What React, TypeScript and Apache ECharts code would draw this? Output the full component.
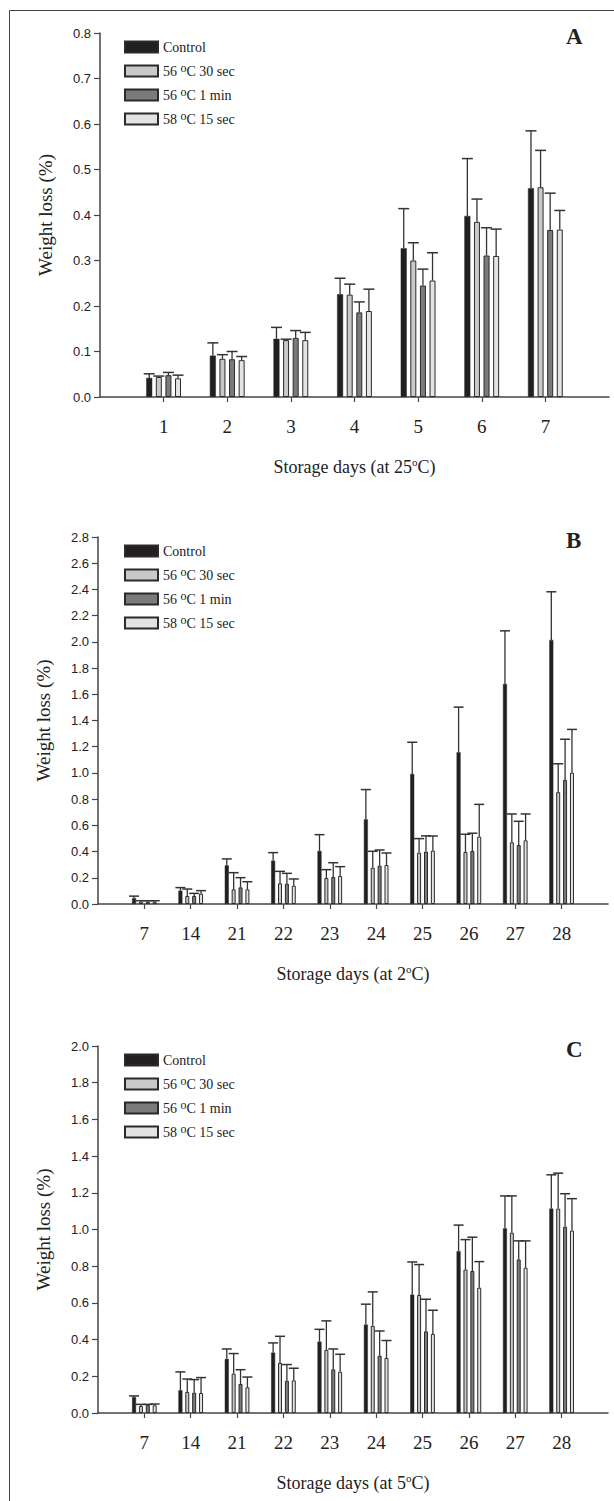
import React, { useEffect, useRef } from 'react';
import * as echarts from 'echarts';

// ---------------- data ----------------
const seriesNames = ['Control', '56 oC 30 sec', '56 oC 1 min', '58 oC 15 sec'];

const daysA = ['1', '2', '3', '4', '5', '6', '7'];
const daysBC = ['7', '14', '21', '22', '23', '24', '25', '26', '27', '28'];

// Panel A (25 °C)
const controlA = [0.042, 0.091, 0.128, 0.226, 0.327, 0.398, 0.459];
const controlA_sd = [0.009, 0.028, 0.025, 0.035, 0.087, 0.126, 0.126];
const t56s30A = [0.044, 0.084, 0.125, 0.225, 0.300, 0.385, 0.461];
const t56s30A_sd = [0.002, 0.009, 0.002, 0.023, 0.039, 0.050, 0.081];
const t56m1A = [0.048, 0.083, 0.130, 0.186, 0.245, 0.311, 0.367];
const t56m1A_sd = [0.006, 0.017, 0.016, 0.023, 0.036, 0.061, 0.081];
const t58s15A = [0.041, 0.081, 0.125, 0.189, 0.256, 0.310, 0.368];
const t58s15A_sd = [0.007, 0.008, 0.017, 0.048, 0.061, 0.059, 0.042];

// Panel B (2 °C)
const controlB = [0.045, 0.102, 0.295, 0.331, 0.405, 0.646, 0.992, 1.158, 1.679, 2.015];
const controlB_sd = [0.015, 0.023, 0.049, 0.061, 0.124, 0.227, 0.242, 0.344, 0.405, 0.367];
const t56s30B = [0.018, 0.061, 0.112, 0.158, 0.198, 0.277, 0.392, 0.397, 0.471, 0.853];
const t56s30B_sd = [0.007, 0.053, 0.127, 0.091, 0.064, 0.125, 0.107, 0.135, 0.216, 0.217];
const t56m1B = [0.018, 0.061, 0.127, 0.155, 0.206, 0.293, 0.400, 0.405, 0.450, 0.947];
const t56m1B_sd = [0.007, 0.020, 0.074, 0.079, 0.109, 0.119, 0.120, 0.135, 0.181, 0.310];
const t58s15B = [0.018, 0.079, 0.112, 0.140, 0.214, 0.298, 0.407, 0.514, 0.486, 1.002];
const t58s15B_sd = [0.007, 0.023, 0.058, 0.051, 0.071, 0.091, 0.112, 0.246, 0.201, 0.330];

// Panel C (5 °C)
const controlC = [0.087, 0.124, 0.295, 0.329, 0.389, 0.482, 0.645, 0.882, 1.006, 1.114];
const controlC_sd = [0.006, 0.100, 0.054, 0.053, 0.067, 0.111, 0.178, 0.142, 0.177, 0.184];
const t56s30C = [0.038, 0.115, 0.215, 0.273, 0.344, 0.475, 0.643, 0.782, 0.983, 1.114];
const t56s30C_sd = [0.009, 0.070, 0.109, 0.145, 0.158, 0.185, 0.166, 0.163, 0.200, 0.193];
const t56m1C = [0.044, 0.111, 0.158, 0.176, 0.238, 0.313, 0.445, 0.774, 0.837, 1.015];
const t56m1C_sd = [0.003, 0.071, 0.078, 0.088, 0.111, 0.134, 0.175, 0.184, 0.101, 0.180];
const t58s15C = [0.042, 0.109, 0.140, 0.178, 0.225, 0.300, 0.431, 0.683, 0.792, 0.994];
const t58s15C_sd = [0.007, 0.084, 0.056, 0.066, 0.095, 0.095, 0.129, 0.142, 0.146, 0.174];

const yTicksA = { max: 0.8, step: 0.1 };
const yTicksB = { max: 2.8, step: 0.2 };
const yTicksC = { max: 2.0, step: 0.2 };

// ---------------- styles / layout ----------------
const fills = ['#231f20', '#c9c9c9', '#7b7b7b', '#e3e3e3'];
const SERIF = '"Liberation Serif", "Times New Roman", serif';
const SANS = '"Liberation Sans", Arial, sans-serif';

const panels = [
  {
    letter: 'A', temp: '25', days: daysA, ticks: yTicksA,
    means: [controlA, t56s30A, t56m1A, t58s15A],
    sds: [controlA_sd, t56s30A_sd, t56m1A_sd, t58s15A_sd],
    layout: { left: 100, right: 5, top: 33, height: 364, barW: 6, gap: 0.6, capW: 11 },
  },
  {
    letter: 'B', temp: '2', days: daysBC, ticks: yTicksB,
    means: [controlB, t56s30B, t56m1B, t58s15B],
    sds: [controlB_sd, t56s30B_sd, t56m1B_sd, t58s15B_sd],
    layout: { left: 98, right: 6, top: 537, height: 367, barW: 4, gap: 0.72, capW: 10 },
  },
  {
    letter: 'C', temp: '5', days: daysBC, ticks: yTicksC,
    means: [controlC, t56s30C, t56m1C, t58s15C],
    sds: [controlC_sd, t56s30C_sd, t56m1C_sd, t58s15C_sd],
    layout: { left: 98, right: 6, top: 1046, height: 367, barW: 4, gap: 0.72, capW: 10 },
  },
];

const legendFormatter = (name: string) => {
  const idx = name.indexOf('oC');
  if (idx < 0) return `{n|${name}}`;
  return `{n|${name.slice(0, idx)}}{s|o}{n|${name.slice(idx + 1)}}`;
};

const axisColor = '#454545';

function buildOption() {
  const grid: any[] = [];
  const xAxis: any[] = [];
  const yAxis: any[] = [];
  const legend: any[] = [];
  const series: any[] = [];
  const graphic: any[] = [
    { type: 'line', shape: { x1: 9.5, y1: 10.5, x2: 614, y2: 10.5 }, style: { stroke: '#444', lineWidth: 1 } },
    { type: 'line', shape: { x1: 9.5, y1: 10.5, x2: 9.5, y2: 1501 }, style: { stroke: '#444', lineWidth: 1 } },
  ];

  panels.forEach((p, i) => {
    const L = p.layout;
    grid.push({ left: L.left, right: L.right, top: L.top, height: L.height });
    xAxis.push({
      type: 'category',
      gridIndex: i,
      data: ['', ...p.days, ''],
      boundaryGap: false,
      axisLine: { lineStyle: { color: axisColor, width: 1.5 } },
      axisTick: {
        interval: (_idx: number, val: string) => val !== '',
        length: 5,
        lineStyle: { color: axisColor, width: 1.2 },
      },
      axisLabel: { interval: 0, fontFamily: SERIF, fontSize: 19, color: '#222', margin: 20 },
      splitLine: { show: false },
      name: `{n|Storage days (at ${p.temp}}{s|o}{n|C)}`,
      nameLocation: 'middle',
      nameGap: 59,
      nameTextStyle: {
        rich: {
          n: { fontFamily: SERIF, fontSize: 18, color: '#222', lineHeight: 22 },
          s: { fontFamily: SERIF, fontSize: 11, color: '#222', lineHeight: 12, verticalAlign: 'top' },
        },
      },
    });
    yAxis.push({
      type: 'value',
      gridIndex: i,
      min: 0,
      max: p.ticks.max,
      interval: p.ticks.step,
      axisLine: { show: true, lineStyle: { color: axisColor, width: 1.5 } },
      axisTick: { show: true, length: 6, lineStyle: { color: axisColor, width: 1.2 } },
      axisLabel: {
        fontFamily: SANS, fontSize: 13, color: '#222', margin: 9,
        formatter: (v: number) => v.toFixed(1),
      },
      splitLine: { show: false },
      name: 'Weight loss (%)',
      nameLocation: 'middle',
      nameGap: 45,
      nameTextStyle: { fontFamily: SERIF, fontSize: 19, color: '#222' },
    });
    legend.push({
      data: seriesNames,
      orient: 'vertical',
      left: 119,
      top: L.top + 2,
      itemWidth: 33,
      itemHeight: 11,
      itemGap: 8,
      icon: 'rect',
      selectedMode: false,
      formatter: legendFormatter,
      textStyle: {
        rich: {
          n: { fontFamily: SERIF, fontSize: 14, color: '#222', lineHeight: 18 },
          s: { fontFamily: SERIF, fontSize: 12, color: '#222', lineHeight: 12, verticalAlign: 'top' },
        },
      },
    });
    graphic.push({
      type: 'text',
      left: 566,
      top: L.top - 8,
      style: { text: p.letter, font: `bold 23px ${SERIF}`, fill: '#222' },
    });

    const pitch = L.barW * (1 + L.gap);
    p.means.forEach((vals, k) => {
      series.push({
        type: 'bar',
        name: seriesNames[k],
        xAxisIndex: i,
        yAxisIndex: i,
        data: ['-', ...vals, '-'],
        barWidth: L.barW,
        barGap: `${L.gap * 100}%`,
        itemStyle: { color: fills[k], borderColor: '#2a2a2a', borderWidth: k === 0 ? 0.5 : 1 },
        z: 2,
      });
    });
    p.means.forEach((vals, k) => {
      const sd = p.sds[k];
      series.push({
        type: 'custom',
        xAxisIndex: i,
        yAxisIndex: i,
        z: 3,
        encode: { x: 0, y: 1 },
        data: vals.map((m, j) => [j + 1, m, sd[j]]),
        renderItem: (_params: any, api: any) => {
          const x = api.value(0);
          const m = api.value(1);
          const s = api.value(2);
          const p0 = api.coord([x, m]);
          const p1 = api.coord([x, m + s]);
          const cx = p0[0] + (k - 1.5) * pitch;
          return {
            type: 'group',
            children: [
              { type: 'line', shape: { x1: cx, y1: p0[1], x2: cx, y2: p1[1] }, style: { stroke: '#333', lineWidth: 1.3 } },
              { type: 'line', shape: { x1: cx - L.capW / 2, y1: p1[1], x2: cx + L.capW / 2, y2: p1[1] }, style: { stroke: '#333', lineWidth: 1.5 } },
            ],
          };
        },
      });
    });
  });

  return {
    animation: false,
    backgroundColor: '#ffffff',
    grid,
    xAxis,
    yAxis,
    legend,
    series,
    graphic,
  };
}

export default function App() {
  const ref = useRef<HTMLDivElement>(null);
  useEffect(() => {
    if (!ref.current) return;
    const chart = echarts.init(ref.current, undefined, { renderer: 'svg' });
    chart.setOption(buildOption() as any);
    return () => chart.dispose();
  }, []);
  return (
    <div
      ref={ref}
      style={{ position: 'absolute', left: 0, top: 0, width: 614, height: 1501, background: '#fff' }}
    />
  );
}
